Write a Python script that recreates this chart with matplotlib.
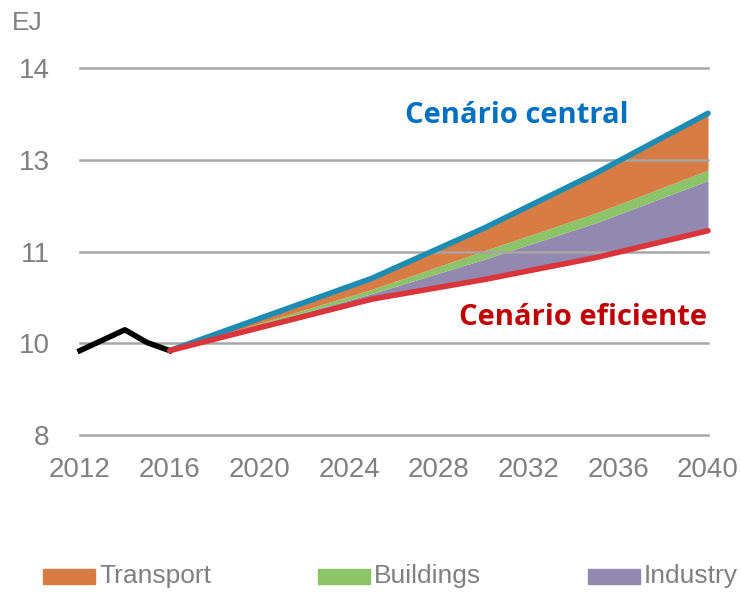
import matplotlib
matplotlib.use("Agg")
import matplotlib.pyplot as plt
from matplotlib.patches import Rectangle
import numpy as np

hist_years = [2012, 2013, 2014, 2015, 2016]
hist_values = [9.38, 9.55, 9.72, 9.51, 9.38]

proj_years = [2016, 2025, 2030, 2035, 2040]
efficient = [9.38, 10.22, 10.54, 10.90, 11.34]
industry = [0.0, 0.09, 0.33, 0.57, 0.82]
buildings = [0.0, 0.07, 0.14, 0.16, 0.17]
transport = [0.0, 0.18, 0.37, 0.65, 0.93]

y_ticks = [8, 9.5, 11, 12.5, 14]
y_ticklabels = ["8", "10", "11", "13", "14"]
x_ticks = [2012, 2016, 2020, 2024, 2028, 2032, 2036, 2040]
legend_labels = ["Transport", "Buildings", "Industry"]

c_orange = "#D87C45"
c_green = "#8DC46A"
c_purple = "#9189B0"
c_blue = "#1B8DB4"
c_red = "#D9353B"
c_gray = "#808080"
c_grid = "#A6A6A6"

tick_font = ["Liberation Sans Narrow", "Liberation Sans", "DejaVu Sans"]
ann_font = ["Open Sans", "DejaVu Sans"]

W, H = 741, 592
fig = plt.figure(figsize=(W/100, H/100), dpi=100)
ax = fig.add_axes([80/W, (H-435)/H, (708-80)/W, (435-68)/H])

eff = np.array(efficient)
ind_top = eff + np.array(industry)
bld_top = ind_top + np.array(buildings)
central = bld_top + np.array(transport)

for yv in y_ticks:
    ax.axhline(yv, color=c_grid, lw=1.8, zorder=2, clip_on=False)

ax.fill_between(proj_years, eff, ind_top, color=c_purple, lw=0, zorder=1)
ax.fill_between(proj_years, ind_top, bld_top, color=c_green, lw=0, zorder=1)
ax.fill_between(proj_years, bld_top, central, color=c_orange, lw=0, zorder=1)

ax.plot(proj_years, central, color=c_blue, lw=4, zorder=3, solid_capstyle="round", clip_on=False)
ax.plot(hist_years, hist_values, color="black", lw=4, zorder=3, clip_on=False)
ax.plot(proj_years, efficient, color=c_red, lw=4, zorder=4, solid_capstyle="round", clip_on=False)

ax.set_xlim(2012, 2040)
ax.set_ylim(8, 14)
ax.set_xticks(x_ticks)
ax.set_xticklabels([str(x) for x in x_ticks], family=tick_font, fontsize=20, color=c_gray)
ax.set_yticks(y_ticks)
ax.set_yticklabels(y_ticklabels, family=tick_font, fontsize=20, color=c_gray)
ax.tick_params(axis="x", length=0, pad=16)
ax.tick_params(axis="y", length=0, pad=22)
for s in ax.spines.values():
    s.set_visible(False)

fig.text(12/W, 1 - 23/H, "EJ", family=tick_font, fontsize=19, color=c_gray, va="center", ha="left")

fig.text(405/W, 1 - 123/H, "Cenário central", family=ann_font, fontweight="bold", fontsize=21,
         color="#0070C0", ha="left", va="baseline")
fig.text(707/W, 1 - 325/H, "Cenário eficiente", family=ann_font, fontweight="bold", fontsize=21,
         color="#C00000", ha="right", va="baseline")

for col, lab, xp in zip([c_orange, c_green, c_purple], legend_labels, [43, 318, 588]):
    fig.patches.append(Rectangle((xp/W, 1 - 584/H), 52/W, 15/H,
                                 transform=fig.transFigure, color=col))
    fig.text((xp + 56)/W, 1 - 576/H, lab, family=tick_font, fontsize=19, color=c_gray,
             ha="left", va="center")

fig.savefig("out.png", dpi=100)
